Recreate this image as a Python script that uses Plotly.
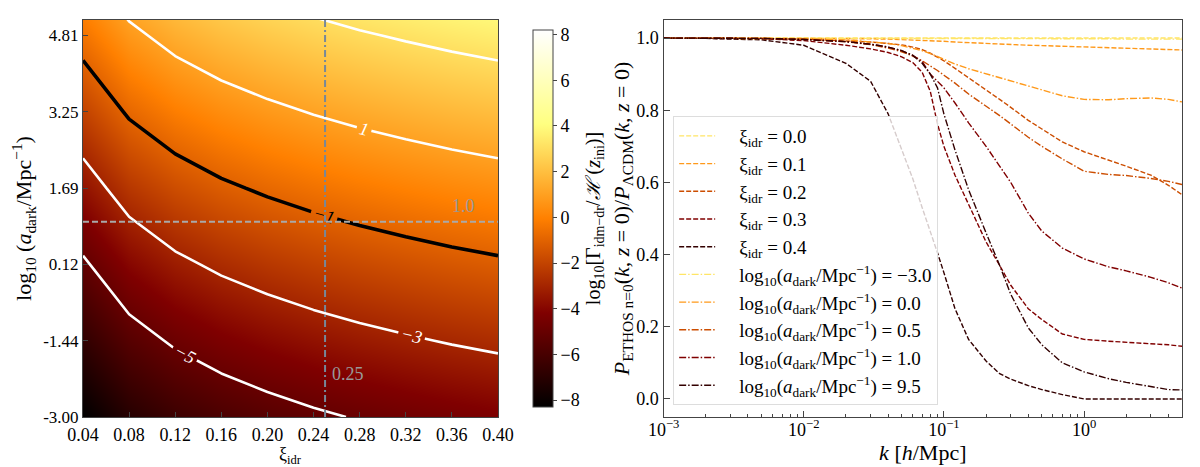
import plotly.graph_objects as go
from plotly.subplots import make_subplots

# ---- left panel: log10[Gamma_idm-dr / H(z_ini)] on the (xi_idr, log10 a_dark) grid
xi_idr = [0.04, 0.08, 0.12, 0.16, 0.20, 0.24, 0.28, 0.32, 0.36, 0.40]
log_a_dark = [-3.0, -1.4375, 0.125, 1.6875, 3.25, 4.8125, 6.375, 7.9375, 9.5]
log_rate = [
    [-8.30, -7.10, -6.39, -5.89, -5.51, -5.19, -4.92, -4.69, -4.48, -4.30],
    [-6.74, -5.54, -4.83, -4.33, -3.95, -3.63, -3.36, -3.13, -2.92, -2.74],
    [-5.18, -3.98, -3.27, -2.77, -2.39, -2.07, -1.80, -1.57, -1.36, -1.18],
    [-3.61, -2.41, -1.70, -1.20, -0.82, -0.50, -0.23, 0.00, 0.21, 0.39],
    [-2.05, -0.85, -0.14, 0.36, 0.74, 1.06, 1.33, 1.56, 1.77, 1.95],
    [-0.49, 0.71, 1.42, 1.92, 2.30, 2.62, 2.89, 3.12, 3.33, 3.51],
    [1.08, 2.28, 2.99, 3.49, 3.87, 4.19, 4.46, 4.69, 4.90, 5.08],
    [2.64, 3.84, 4.55, 5.05, 5.43, 5.75, 6.02, 6.25, 6.46, 6.64],
    [4.20, 5.40, 6.11, 6.61, 6.99, 7.31, 7.58, 7.81, 8.02, 8.20],
]
y_tickvals = [-3.0, -1.4375, 0.125, 1.6875, 3.25, 4.8125]
y_ticktext = ["-3.00", "-1.44", "0.12", "1.69", "3.25", "4.81"]
xi_mark = 0.25      # vertical reference line
a_mark = 1.0        # horizontal reference line

# ---- right panel: P_ETHOS / P_LCDM at z=0
k = [0.001, 0.002, 0.005, 0.01, 0.02, 0.03, 0.04, 0.05, 0.06, 0.07, 0.08, 0.09,
     0.1, 0.12, 0.15, 0.2, 0.25, 0.3, 0.4, 0.5, 0.7, 1.0, 1.5, 2.0, 3.0, 4.0, 5.0]
xi_00 = [1.0] * 27
xi_01 = [1.0, 1.0, 1.0, 1.0, 0.999, 0.998, 0.997, 0.996, 0.995, 0.994, 0.993, 0.992,
         0.991, 0.989, 0.987, 0.985, 0.983, 0.982, 0.980, 0.979, 0.977, 0.975, 0.973, 0.971, 0.969, 0.968, 0.967]
xi_02 = [1.0, 1.0, 0.999, 0.997, 0.993, 0.989, 0.985, 0.981, 0.975, 0.968, 0.958, 0.948,
         0.937, 0.916, 0.89, 0.858, 0.83, 0.808, 0.772, 0.748, 0.712, 0.685, 0.662, 0.645, 0.62, 0.592, 0.566]
xi_03 = [1.0, 1.0, 0.998, 0.993, 0.98, 0.97, 0.96, 0.948, 0.932, 0.905, 0.852, 0.762,
         0.70, 0.62, 0.54, 0.435, 0.37, 0.315, 0.25, 0.22, 0.18, 0.165, 0.16, 0.157, 0.154, 0.15, 0.146]
xi_04 = [1.0, 0.999, 0.995, 0.98, 0.93, 0.88, 0.79, 0.69, 0.61, 0.53, 0.465, 0.405,
         0.35, 0.25, 0.165, 0.105, 0.07, 0.055, 0.037, 0.026, 0.012, 0.0, 0.0, 0.0, 0.0, 0.0, 0.0]
a_m30 = [1.0, 1.0, 1.0, 1.0, 1.0, 1.0, 1.0, 1.0, 1.0, 1.0, 1.0, 1.0,
         1.0, 0.999, 0.999, 0.999, 0.999, 0.999, 0.998, 0.998, 0.998, 0.998, 0.998, 0.997, 0.997, 0.997, 0.997]
a_00 = [1.0, 1.0, 0.999, 0.998, 0.995, 0.99, 0.985, 0.979, 0.972, 0.965, 0.957, 0.948,
        0.94, 0.928, 0.915, 0.901, 0.89, 0.881, 0.868, 0.857, 0.84, 0.83, 0.829, 0.832, 0.834, 0.83, 0.823]
a_05 = [1.0, 1.0, 0.999, 0.997, 0.99, 0.982, 0.972, 0.962, 0.95, 0.937, 0.923, 0.91,
        0.897, 0.875, 0.845, 0.812, 0.785, 0.762, 0.725, 0.70, 0.665, 0.631, 0.622, 0.619, 0.611, 0.603, 0.594]
a_10 = [1.0, 1.0, 0.999, 0.996, 0.99, 0.983, 0.975, 0.965, 0.952, 0.935, 0.90, 0.88,
        0.862, 0.82, 0.765, 0.70, 0.645, 0.60, 0.515, 0.465, 0.418, 0.388, 0.366, 0.355, 0.337, 0.322, 0.307]
a_95 = [1.0, 1.0, 0.999, 0.996, 0.99, 0.983, 0.975, 0.965, 0.952, 0.93, 0.90, 0.862,
        0.79, 0.69, 0.58, 0.46, 0.37, 0.29, 0.197, 0.15, 0.10, 0.075, 0.056, 0.046, 0.034, 0.026, 0.025]

xi_curves = [xi_00, xi_01, xi_02, xi_03, xi_04]
xi_labels = ["0.0", "0.1", "0.2", "0.3", "0.4"]
a_curves = [a_m30, a_00, a_05, a_10, a_95]
a_labels = ["−3.0", "0.0", "0.5", "1.0", "9.5"]
colors = ["#ffe566", "#ff991a", "#cc4d00", "#800000", "#330000"]

k_major = [0.001, 0.01, 0.1, 1]
k_minor = [m * d for d in k_major for m in range(2, 10) if m * d <= 5]

afmhot = [[0.0, "rgb(0,0,0)"], [0.25, "rgb(128,0,0)"], [0.5, "rgb(255,128,0)"],
          [0.75, "rgb(255,255,128)"], [1.0, "rgb(255,255,255)"]]

FONT = "Liberation Serif"
AX = "#444"
GAP = "\u2003"   # space between legend line sample and its text

fig = make_subplots(rows=1, cols=2)

fig.add_trace(go.Heatmap(
    x=xi_idr, y=log_a_dark, z=log_rate, colorscale=afmhot, zmin=-8.3, zmax=8.2,
    zsmooth="best", hoverinfo="skip", showlegend=False,
    colorbar=dict(x=0.4006, xanchor="left", y=0.5, yanchor="middle", len=1.0, lenmode="fraction",
                  thickness=20, outlinewidth=1, outlinecolor=AX,
                  tickvals=[-8, -6, -4, -2, 0, 2, 4, 6, 8],
                  ticktext=["−8", "−6", "−4", "−2", "0", "2", "4", "6", "8"],
                  ticks="outside", ticklen=4, tickcolor=AX, tickfont=dict(size=18),
                  title=dict(text="log<sub>10</sub>[Γ<sub>idm−dr</sub>/<i>ℋ</i> (<i>z</i><sub>ini</sub>)]",
                             side="right", font=dict(size=20))),
), row=1, col=1)

def contour_lines(lo, hi, color, width, labels, lab_color):
    return go.Contour(
        x=xi_idr, y=log_a_dark, z=log_rate, showscale=False, hoverinfo="skip", showlegend=False,
        contours=dict(start=lo, end=hi, size=2, coloring="none", showlabels=labels,
                      labelfont=dict(family=FONT, size=18, color=lab_color, style="italic")),
        line=dict(color=color, width=width, smoothing=0),
    )

fig.add_trace(contour_lines(-5, -3, "white", 2.6, True, "white"), row=1, col=1)
fig.add_trace(contour_lines(-1, -1, "black", 3.6, True, "black"), row=1, col=1)
fig.add_trace(contour_lines(1, 1, "white", 2.6, True, "white"), row=1, col=1)
fig.add_trace(contour_lines(3, 3, "white", 2.6, False, "white"), row=1, col=1)

fig.add_shape(type="line", x0=xi_idr[0], x1=xi_idr[-1], y0=a_mark, y1=a_mark,
              line=dict(color="darkgray", width=2, dash="6px,3px"), row=1, col=1)
fig.add_shape(type="line", x0=xi_mark, x1=xi_mark, y0=log_a_dark[0], y1=5.13,
              line=dict(color="lightslategray", width=2, dash="7px,3px,2px,3px"), row=1, col=1)
fig.add_annotation(x=0.37, y=1.32, text="1.0", showarrow=False, font=dict(color="#999", size=18),
                   xref="x", yref="y")
fig.add_annotation(x=0.254, y=-2.12, text="0.25", showarrow=False, xanchor="left",
                   font=dict(color="#999", size=18), xref="x", yref="y")
# x-axis title of the left panel, placed by hand so it sits close to the tick labels
fig.add_annotation(x=0.5, y=-0.098, xref="x domain", yref="paper", text="ξ<sub>idr</sub>",
                   showarrow=False, yanchor="middle", font=dict(size=18))

for vals, lab, c in zip(xi_curves, xi_labels, colors):
    fig.add_trace(go.Scatter(x=k, y=vals, mode="lines", name=f"{GAP}ξ<sub>idr</sub> = {lab}",
                             line=dict(color=c, width=1.4, dash="5px,2px")), row=1, col=2)
for vals, lab, c in zip(a_curves, a_labels, colors):
    fig.add_trace(go.Scatter(x=k, y=vals, mode="lines",
                             name=f"{GAP}log<sub>10</sub>(<i>a</i><sub>dark</sub>/Mpc<sup>−1</sup>) = {lab}",
                             line=dict(color=c, width=1.4, dash="7px,2px,1.5px,2px")), row=1, col=2)

fig.update_layout(
    width=1200, height=467, margin=dict(l=75, r=10, t=12, b=58),
    plot_bgcolor="white", paper_bgcolor="white",
    font=dict(family=FONT, size=18, color="black"),
    showlegend=True,
    legend=dict(x=0.537, y=0.758, xanchor="left", yanchor="top", bgcolor="rgba(255,255,255,0.8)",
                bordercolor="#ddd", borderwidth=1, font=dict(size=19), tracegroupgap=0, itemwidth=36),
)

fig.update_xaxes(domain=[0, 0.3776], range=[0.04, 0.40], tickvals=xi_idr,
                 ticktext=[f"{v:.2f}" for v in xi_idr], ticks="inside", ticklen=5, tickcolor=AX,
                 ticklabelstandoff=1,
                 showline=True, linecolor=AX, mirror=True, showgrid=False, zeroline=False,
                 row=1, col=1)
fig.update_yaxes(range=[-3.0, 5.13], tickvals=y_tickvals, ticktext=y_ticktext, ticks="inside",
                 ticklen=5, tickcolor=AX, showline=True, linecolor=AX, mirror=True, showgrid=False,
                 zeroline=False, tickfont=dict(size=17),
                 title=dict(text="log<sub>10</sub> (<i>a</i><sub>dark</sub>/Mpc<sup>−1</sup>)", standoff=6),
                 row=1, col=1)

fig.update_xaxes(domain=[0.5283, 1.0], type="log", range=[-3, 0.699],
                 tickvals=k_major,
                 ticktext=["10<sup>−3</sup>", "10<sup>−2</sup>", "10<sup>−1</sup>", "10<sup>0</sup>"],
                 ticks="inside", ticklen=6, tickcolor=AX, ticklabelstandoff=-4,
                 minor=dict(tickmode="array", tickvals=k_minor, ticks="inside", ticklen=3,
                            tickcolor=AX, showgrid=False),
                 showline=True, linecolor=AX, linewidth=1.4, mirror=True, showgrid=False,
                 title=dict(text="<i>k</i> [<i>h</i>/Mpc]", standoff=2), row=1, col=2)
fig.update_yaxes(range=[-0.05, 1.05], dtick=0.2, tick0=0, tickformat=".1f", ticks="inside",
                 ticklen=6, tickcolor=AX, showline=True, linecolor=AX, linewidth=1.4, mirror=True,
                 showgrid=False, zeroline=False,
                 title=dict(text="<i>P</i><sub>ETHOS n=0</sub>(<i>k</i>, <i>z</i> = 0)/<i>P</i><sub>ΛCDM</sub>(<i>k</i>, <i>z</i> = 0)",
                            standoff=0),
                 row=1, col=2)

fig.write_html("out.html")
